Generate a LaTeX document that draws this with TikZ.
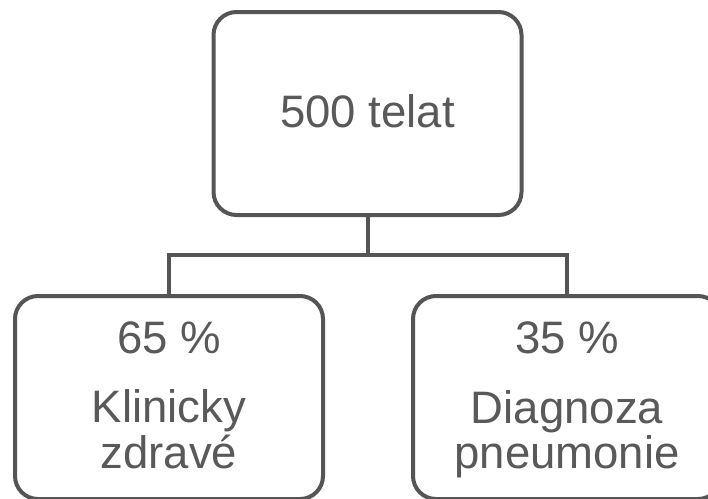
\documentclass[tikz,border=0pt]{standalone}
\usepackage{fontspec}
\setmainfont{Liberation Sans}
\definecolor{linegray}{HTML}{555555}
\definecolor{textgray}{HTML}{595959}
\tikzset{
  box/.style={draw=linegray, line width=4pt, rounded corners=23pt, minimum width=308pt, minimum height=203pt, inner sep=0pt, fill=white},
  lbl/.style={text=textgray, inner sep=0pt, anchor=base, font=\fontsize{45.5}{47}\selectfont},
  conn/.style={draw=linegray, line width=4pt}
}
\begin{document}
\begin{tikzpicture}[x=1pt,y=-1pt]
\useasboundingbox (0,0) rectangle (708,498);
\clip (0,0) rectangle (708,498);
\node[box] (top) at (367.5,113.5) {};
\node[box] (left) at (169,397.5) {};
\node[box] (right) at (567,397.5) {};
\coordinate (split) at (367.5,255);
\draw[conn] (top.south) -- (split);
\draw[conn] (split) -| (left.north);
\draw[conn] (split) -| (right.north);
\node[lbl] (t1) at (367.5,127) {500 telat};
\node[lbl] (l1) at (169,353) {65 \%};
\node[lbl] (l2) at (169,422) {Klinicky};
\node[lbl] (l3) at (169,468) {zdravé};
\node[lbl] (r1) at (567,353) {35 \%};
\node[lbl] (r2) at (567,423) {Diagnoza};
\node[lbl] (r3) at (567,468) {pneumonie};
\end{tikzpicture}
\end{document}
